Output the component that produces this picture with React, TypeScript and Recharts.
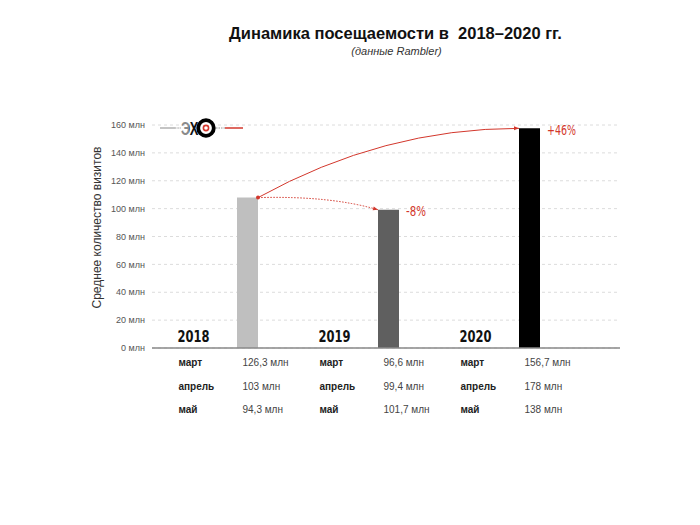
import React from 'react';
import { BarChart, Bar, XAxis, YAxis, CartesianGrid, Cell, LabelList, ReferenceLine } from 'recharts';

const years = ['2018', '2019', '2020'];
const visits = [107.9, 99.2, 157.6];
const changeLabels = ['', '-8%', '+46%'];
const months = ['март', 'апрель', 'май'];
const monthly2018 = ['126,3 млн', '103 млн', '94,3 млн'];
const monthly2019 = ['96,6 млн', '99,4 млн', '101,7 млн'];
const monthly2020 = ['156,7 млн', '178 млн', '138 млн'];
const yTicks = [0, 20, 40, 60, 80, 100, 120, 140, 160];

const monthlyByYear = [monthly2018, monthly2019, monthly2020];
const barColors = ['#bfbfbf', '#5f5f5f', '#000000'];
const data = years.map((y, i) => ({ year: y, visits: visits[i], change: changeLabels[i] }));

const BAR = 21;
const RED = '#d3372c';
const SANS = "'Liberation Sans', Arial, Helvetica, sans-serif";
const NARROW = "'Liberation Sans Narrow', 'DejaVu Sans Condensed', 'Liberation Sans', sans-serif";

function YearTick(props: any) {
  const { x, y, payload, index } = props;
  const rows = monthlyByYear[index] || [];
  const rowDy = [18, 41.5, 65];
  return (
    <g>
      <text x={x - 54} y={y - 6.5} textAnchor="middle" fontFamily={NARROW} fontWeight="bold" fontSize={16.5} fill="#111"
        textLength={32} lengthAdjust="spacingAndGlyphs">
        {payload.value}
      </text>
      {months.map((m, k) => (
        <g key={k}>
          <text x={x - 69} y={y + rowDy[k]} fontFamily={SANS} fontWeight="bold" fontSize={10} fill="#222">{m}</text>
          <text x={x - 5} y={y + rowDy[k]} fontFamily={SANS} fontSize={10} fill="#444">{rows[k]}</text>
        </g>
      ))}
    </g>
  );
}

function arrowHead(tx: number, ty: number, fx: number, fy: number) {
  const a = Math.atan2(ty - fy, tx - fx);
  const len = 5, hw = 2;
  const bx = tx - len * Math.cos(a), by = ty - len * Math.sin(a);
  const px = -Math.sin(a) * hw, py = Math.cos(a) * hw;
  return `${tx},${ty} ${bx + px},${by + py} ${bx - px},${by - py}`;
}

function BigArc(props: any) {
  const { x1, y1, x2, y2 } = props;
  const sx = x1 + BAR / 2, ex = x2 - BAR / 2;
  const cx = sx + 0.48 * (ex - sx), cy = y2;
  return (
    <g>
      <path d={`M${sx},${y1} Q${cx},${cy} ${ex},${y2}`} fill="none" stroke={RED} strokeWidth={1} />
      <polygon points={arrowHead(ex, y2, cx, cy)} fill={RED} />
      <circle cx={sx} cy={y1} r={2} fill={RED} />
    </g>
  );
}

function SmallArc(props: any) {
  const { x1, y1, x2, y2 } = props;
  const sx = x1 + BAR / 2, ex = x2 - BAR / 2;
  const cx = sx + 0.6 * (ex - sx), cy = y1 - 2;
  return (
    <g>
      <path d={`M${sx},${y1} Q${cx},${cy} ${ex},${y2}`} fill="none" stroke={RED} strokeWidth={1} strokeDasharray="1.5 1.5" />
      <polygon points={arrowHead(ex, y2, cx, cy)} fill={RED} />
    </g>
  );
}

function ChangeLabel(props: any) {
  const { x, y, width, value } = props;
  if (!value) return null;
  const len = value.length > 3 ? 29 : 20;
  return (
    <text x={x + width + 7} y={y + 6.5} fontFamily={NARROW} fontSize={13.5} fill={RED}
      textLength={len} lengthAdjust="spacingAndGlyphs">{value}</text>
  );
}

function YLabel(props: any) {
  const { viewBox } = props;
  const cx = viewBox.x + 5;
  const cy = viewBox.y + viewBox.height / 2 - 9;
  return (
    <text x={cx} y={cy} transform={`rotate(-90 ${cx} ${cy})`} textAnchor="middle" dominantBaseline="central" fontFamily={SANS} fontSize={12} fill="#333">
      Среднее количество визитов
    </text>
  );
}

function Logo() {
  return (
    <svg width={100} height={30} style={{ position: 'absolute', left: 155, top: 113 }}>
      <defs>
        <linearGradient id="echoFill" x1="0" y1="0" x2="1" y2="0">
          <stop offset="0" stopColor="#8a8a8a" />
          <stop offset="0.45" stopColor="#8a8a8a" />
          <stop offset="0.5" stopColor="#111" />
          <stop offset="1" stopColor="#111" />
        </linearGradient>
      </defs>
      <line x1={5} y1={15} x2={20} y2={15} stroke="#b0b0b0" strokeWidth={1.5} />
      <line x1={20} y1={15} x2={26} y2={15} stroke="#999" strokeWidth={1} strokeDasharray="1 0.6" />
      <text x={26} y={21.5} fontFamily={SANS} fontWeight="bold" fontSize={18} fill="url(#echoFill)" textLength={17.5} lengthAdjust="spacingAndGlyphs">ЭХ</text>
      <circle cx={51} cy={15} r={7.8} fill="#fff" stroke="#000" strokeWidth={3.8} />
      <circle cx={51} cy={15} r={2.6} fill="#fff" stroke={RED} strokeWidth={1.6} />
      <line x1={61} y1={15} x2={70} y2={15} stroke="#999" strokeWidth={1.2} strokeDasharray="1.5 1" />
      <line x1={70} y1={15} x2={88} y2={15} stroke={RED} strokeWidth={1.5} />
    </svg>
  );
}

export default function App() {
  return (
    <div style={{ position: 'absolute', left: 0, top: 0, width: 700, height: 525, background: '#fff', overflow: 'hidden' }}>
      <div style={{ position: 'absolute', left: 0, top: 24, width: 791, textAlign: 'center', fontFamily: SANS, fontWeight: 'bold', fontSize: 16.5, color: '#111', whiteSpace: 'pre' }}>
        {'Динамика посещаемости в  2018–2020 гг.'}
      </div>
      <div style={{ position: 'absolute', left: 0, top: 45, width: 793, textAlign: 'center', fontFamily: SANS, fontStyle: 'italic', fontSize: 11, color: '#333' }}>
        (данные Rambler)
      </div>
      <BarChart width={700} height={525} data={data} margin={{ top: 125, right: 80, bottom: 87, left: 92 }}>
        <CartesianGrid vertical={false} stroke="#dcdcdc" strokeDasharray="3 3" />
        <XAxis
          dataKey="year"
          height={90}
          interval={0}
          tickLine={false}
          tickSize={0}
          tickMargin={0}
          axisLine={{ stroke: '#888', strokeWidth: 1.5 }}
          padding={{ left: 25, right: 20 }}
          tick={<YearTick />}
        />
        <YAxis
          width={60}
          domain={[0, 160]}
          ticks={yTicks}
          interval={0}
          axisLine={false}
          tickLine={false}
          tickSize={6}
          tickMargin={1}
          tickFormatter={(v: number) => `${v} млн`}
          tick={{ fontSize: 9, fill: '#555', fontFamily: SANS }}
          label={<YLabel />}
        />
        <Bar dataKey="visits" barSize={BAR} isAnimationActive={false}>
          {data.map((d, i) => (
            <Cell key={d.year} fill={barColors[i]} />
          ))}
          <LabelList dataKey="change" content={<ChangeLabel />} />
        </Bar>
        <ReferenceLine
          segment={[{ x: years[0], y: visits[0] }, { x: years[2], y: visits[2] }]}
          ifOverflow="visible"
          shape={(p: any) => <BigArc {...p} />}
        />
        <ReferenceLine
          segment={[{ x: years[0], y: visits[0] }, { x: years[1], y: visits[1] }]}
          ifOverflow="visible"
          shape={(p: any) => <SmallArc {...p} />}
        />
      </BarChart>
      <Logo />
    </div>
  );
}
